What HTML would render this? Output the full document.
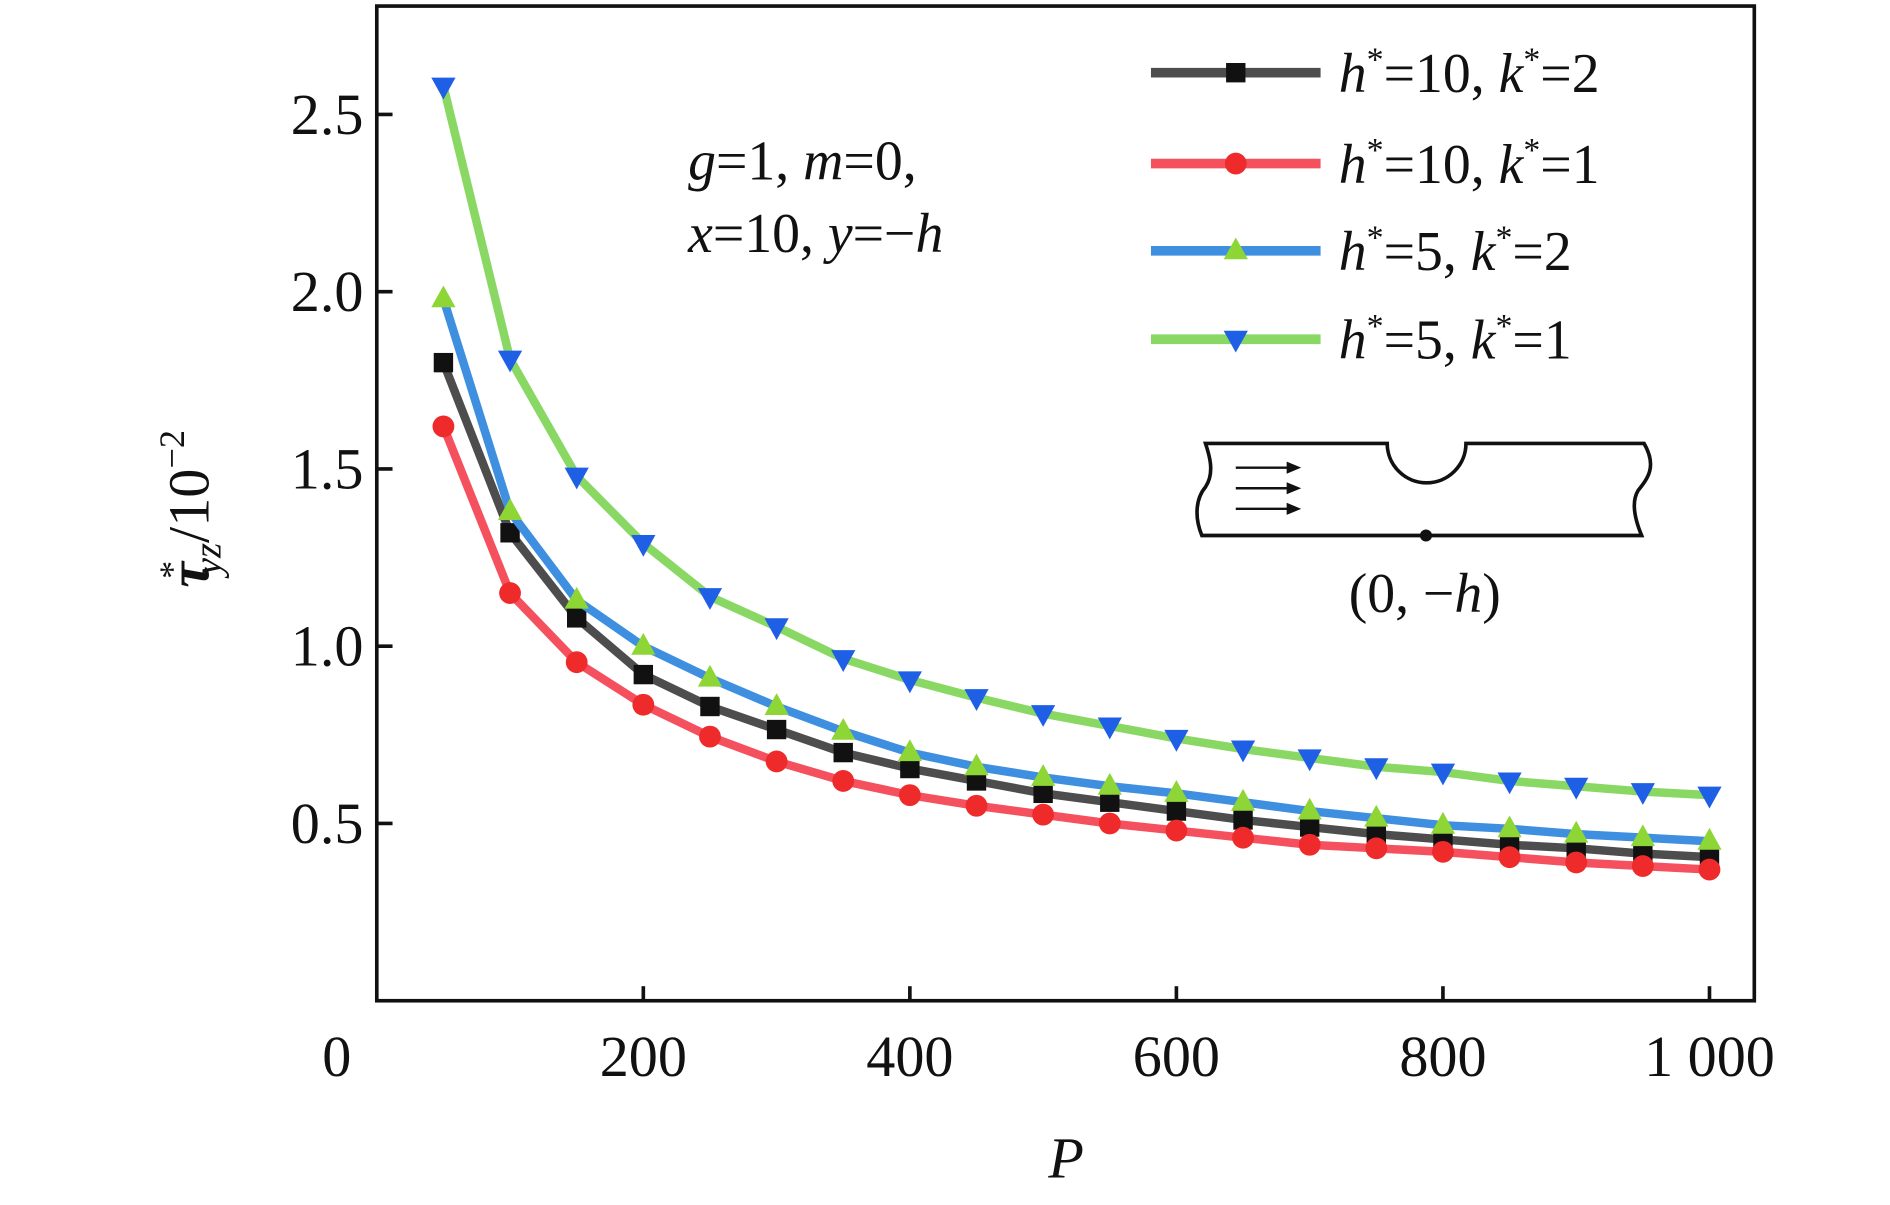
<!DOCTYPE html>
<html><head><meta charset="utf-8">
<style>html,body{margin:0;padding:0;background:#fff;}svg{display:block;}text{font-family:"Liberation Serif","Times New Roman",serif;fill:#111;}</style>
</head><body>
<svg id="chart" width="1890" height="1205" viewBox="0 0 1560 994.6" xmlns="http://www.w3.org/2000/svg">
<rect x="311" y="5" width="1137" height="821" fill="none" stroke="#111" stroke-width="3"/>
<g id="ticks"></g>
<g id="series"></g>
<text x="880" y="972" font-size="48" font-style="italic" text-anchor="middle">P</text>
<text transform="translate(172,420) rotate(-90)" font-size="48" text-anchor="middle"><tspan font-style="italic" font-weight="bold">τ</tspan><tspan font-size="30" dy="-20" dx="-14">*</tspan><tspan font-size="32" font-style="italic" dy="30" dx="-12">yz</tspan><tspan dy="-10">/10</tspan><tspan font-size="30" dy="-20">−2</tspan></text>
<text x="568" y="148" font-size="46"><tspan font-style="italic">g</tspan>=1, <tspan font-style="italic">m</tspan>=0,</text>
<text x="568" y="208" font-size="46"><tspan font-style="italic">x</tspan>=10, <tspan font-style="italic">y</tspan>=−<tspan font-style="italic">h</tspan></text>
<g id="legend"></g>
<g fill="none" stroke="#111" stroke-width="3">
<path d="M995 366 L1145 366 A32 32 0 0 0 1210 366 L1357 366 C1368 385 1360 395 1352 405 C1346 415 1350 430 1355 442 L992 442 C985 425 988 410 995 402 C1003 390 998 375 995 366 Z"/>
<line x1="1020" y1="386" x2="1066" y2="386" stroke-width="2"/>
<line x1="1020" y1="403" x2="1066" y2="403" stroke-width="2"/>
<line x1="1020" y1="420" x2="1066" y2="420" stroke-width="2"/>
<path d="M1062 381 L1074 386 L1062 391 Z M1062 398 L1074 403 L1062 408 Z M1062 415 L1074 420 L1062 425 Z" fill="#111" stroke="none"/>
<circle cx="1177" cy="442" r="5" fill="#111" stroke="none"/>
</g>
<text x="1176" y="505" font-size="46" text-anchor="middle">(0, −<tspan font-style="italic">h</tspan>)</text>
</svg>
<script>
const P = [50,100,150,200,250,300,350,400,450,500,550,600,650,700,750,800,850,900,950,1000];
const sH10K2 = [1.80,1.32,1.08,0.92,0.83,0.765,0.70,0.655,0.62,0.585,0.56,0.535,0.51,0.49,0.47,0.455,0.44,0.43,0.415,0.405];
const sH10K1 = [1.62,1.15,0.955,0.835,0.745,0.675,0.62,0.58,0.55,0.525,0.50,0.48,0.46,0.44,0.43,0.42,0.405,0.39,0.38,0.37];
const sH5K2 = [1.98,1.38,1.13,1.0,0.91,0.83,0.76,0.70,0.66,0.63,0.605,0.585,0.56,0.535,0.515,0.495,0.485,0.47,0.46,0.45];
const sH5K1 = [2.58,1.81,1.48,1.29,1.14,1.055,0.965,0.905,0.855,0.81,0.775,0.74,0.71,0.685,0.66,0.645,0.62,0.605,0.59,0.58];
const xTicks = [0,200,400,600,800,1000];
const xTickLabels = ["0","200","400","600","800","1 000"];
const yTicks = [0.5,1.0,1.5,2.0,2.5];
const yTickLabels = ["0.5","1.0","1.5","2.0","2.5"];
const seriesNames = ["h10k2","h10k1","h5k2","h5k1"];

const NS="http://www.w3.org/2000/svg";
function xs(v){return 311+v*1.1;}
function ys(v){return 826-v*292.6;}
function mk(tag,attrs,parent){const e=document.createElementNS(NS,tag);for(const k in attrs)e.setAttribute(k,attrs[k]);parent.appendChild(e);return e;}
const tg=document.getElementById('ticks');
xTicks.forEach((t,i)=>{
  if(t>0){const l=mk('line',{x1:xs(t),x2:xs(t),y1:826,y2:814,stroke:'#111','stroke-width':3},tg);
  
  }
  const tx=mk('text',{x:t===0?278:xs(t),y:888,'font-size':48,'text-anchor':'middle'},tg);
  tx.textContent=xTickLabels[i];
  
  
});
yTicks.forEach((t,i)=>{
  const l=mk('line',{x1:311,x2:324,y1:ys(t),y2:ys(t),stroke:'#111','stroke-width':3},tg);
  
  
  const tx=mk('text',{x:300,y:ys(t)+16,'font-size':48,'text-anchor':'end'},tg);
  tx.textContent=yTickLabels[i];
  
  
});
function marker(type,x,y,color,parent){
  let e;
  if(type==='square') e=mk('rect',{x:x-8,y:y-8,width:16,height:16,fill:color},parent);
  else if(type==='circle') e=mk('circle',{cx:x,cy:y,r:9,fill:color},parent);
  else if(type==='up') e=mk('path',{d:`M${x} ${y-11} L${x+10} ${y+7} L${x-10} ${y+7} Z`,fill:color},parent);
  else e=mk('path',{d:`M${x} ${y+11} L${x+10} ${y-7} L${x-10} ${y-7} Z`,fill:color},parent);
  return e;
}
const defs=[
  {d:sH10K2,line:'#4d4d4d',m:'#111',t:'square',lbl:['10','2']},
  {d:sH10K1,line:'#f5505e',m:'#ee2a2a',t:'circle',lbl:['10','1']},
  {d:sH5K2,line:'#3f8fe0',m:'#8ed635',t:'up',lbl:['5','2']},
  {d:sH5K1,line:'#8ad864',m:'#1f5fe6',t:'down',lbl:['5','1']}
];
const sg=document.getElementById('series');
const lg=document.getElementById('legend');
const legY=[60,135,207,280];
defs.forEach((s,i)=>{
  const g=mk('g',{},sg);
  
  
  const pl=mk('polyline',{points:s.d.map((v,j)=>xs(P[j])+','+ys(v)).join(' '),fill:'none',stroke:s.line,'stroke-width':7,'stroke-linejoin':'round'},g);
  
  
  s.d.forEach((v,j)=>{
    const m=marker(s.t,xs(P[j]),ys(v),s.m,g);
    
    
  });
  const e=mk('g',{},lg);
  
  
  mk('line',{x1:950,x2:1090,y1:legY[i],y2:legY[i],stroke:s.line,'stroke-width':8},e);
  marker(s.t,1020,legY[i],s.m,e);
  const tx=mk('text',{x:1105,y:legY[i]+16,'font-size':46},e);
  tx.innerHTML=`<tspan font-style="italic">h</tspan><tspan font-size="28" dy="-18">*</tspan><tspan dy="18">=${s.lbl[0]}, </tspan><tspan font-style="italic">k</tspan><tspan font-size="28" dy="-18">*</tspan><tspan dy="18">=${s.lbl[1]}</tspan>`;
});
</script>
</body></html>
